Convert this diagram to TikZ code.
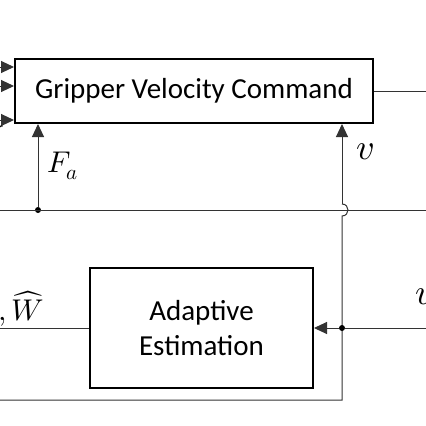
\documentclass[tikz,border=0pt]{standalone}
\usepackage{amsmath}
\usepackage{unicode-math}
\setmainfont{Carlito}
\setmathfont{Latin Modern Math}
\usetikzlibrary{arrows.meta}

\begin{document}
\begin{tikzpicture}[x=1pt,y=-1pt]
		\tikzstyle{block}=[draw=black,line width=2pt,rectangle,inner sep=0pt,align=center,font=\fontsize{29}{34}\selectfont]
		\tikzstyle{signal}=[color=black!80,line width=1pt]
		\tikzstyle{feed}=[signal,-{Triangle[length=13pt,width=12pt]}]
		\tikzstyle{junction}=[fill=black,circle,inner sep=0pt,minimum size=6pt]
		\tikzstyle{sig-label}=[font=\fontsize{30}{34}\selectfont,inner sep=0pt]
		\tikzstyle{big-label}=[font=\fontsize{36}{40}\selectfont,inner sep=0pt]
		\useasboundingbox (0,0) rectangle (426,426);
		% blocks
		\node [block,minimum width=358pt,minimum height=64pt] at (194,91) (cmd) {Gripper Velocity Command};
		\node [block,minimum width=223pt,minimum height=120pt] at (201.5,328) (est) {Adaptive\\[1pt]Estimation};
		% inputs of the command block
		\coordinate (in1) at (0,67);
		\coordinate (in2) at (0,86);
		\coordinate (in3) at (0,120);
		\draw [feed] (in1) -- (in1 -| cmd.west);
		\draw [feed] (in2) -- (in2 -| cmd.west);
		\draw [feed] (in3) -- (in3 -| cmd.west);
		\node [sig-label,anchor=base east] at (5,146) (lgam) {$V$};
		\coordinate (out) at (426,91);
		\draw [signal] (cmd.east) -- (out);
		% force feedback
		\coordinate (bl) at (0,210);
		\coordinate (br) at (426,210);
		\node [junction] at (38,210) (fa) {};
		\draw [signal] (bl) -- (br);
		\draw [feed] (fa) -- (fa |- cmd.south);
		\node [sig-label] at (63,166) (lfa) {$F_a$};
		% velocity line with hop
		\coordinate (vb) at (342,400);
		\coordinate (hb) at (342,216);
		\coordinate (ht) at (342,204);
		\coordinate (lb) at (0,400);
		\draw [signal] (lb) -- (vb) -- (hb) .. controls (350,216) and (350,204) .. (ht);
		\draw [feed] (ht) -- (ht |- cmd.south);
		\node [big-label] at (365,152) (lv) {$v$};
		% estimation
		\node [junction] at (342,328) (ju) {};
		\coordinate (uin) at (426,328);
		\draw [signal] (uin) -- (ju);
		\draw [feed] (ju) -- (est.east);
		\node [big-label,anchor=west] at (415,297) (lu) {$u$};
		\coordinate (wout) at (0,328);
		\draw [signal] (est.west) -- (wout);
		\node [sig-label,anchor=base east] at (44,320) (lw) {$\hat{\theta},\widehat{W}$};
	\end{tikzpicture}
\end{document}
